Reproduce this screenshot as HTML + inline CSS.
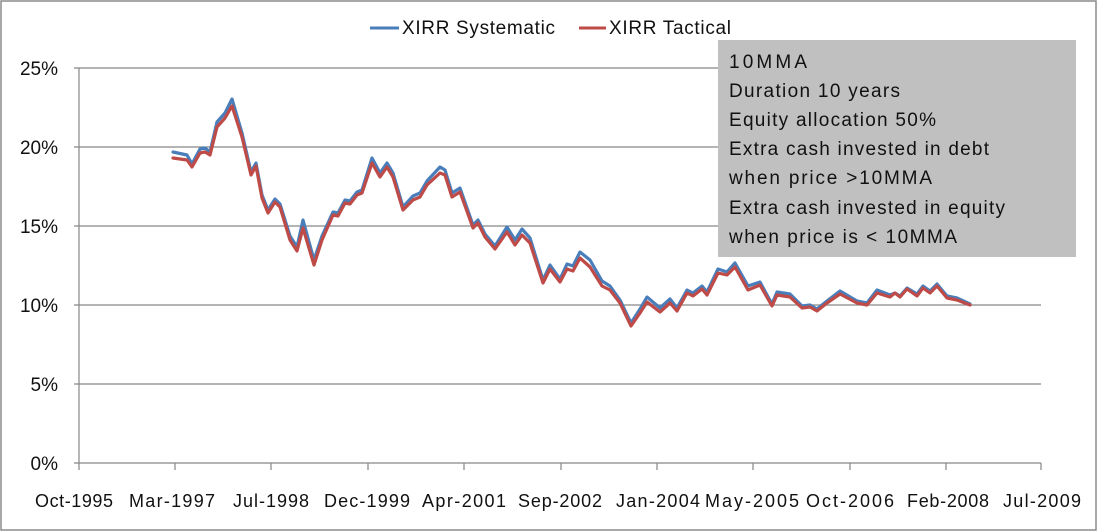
<!DOCTYPE html>
<html><head><meta charset="utf-8"><style>
html,body{margin:0;padding:0;background:#fff;}
svg{display:block;font-family:"Liberation Sans",sans-serif;}
</style></head><body>
<svg width="1098" height="532" viewBox="0 0 1098 532" xmlns="http://www.w3.org/2000/svg">
<rect x="1" y="1" width="1095" height="529" fill="#fff" stroke="#8c8c8c" stroke-width="1.5"/>
<g stroke="#878787" stroke-width="1.2">
<line x1="74" y1="68" x2="1041" y2="68"/>
<line x1="74" y1="147" x2="1041" y2="147"/>
<line x1="74" y1="226" x2="1041" y2="226"/>
<line x1="74" y1="305" x2="1041" y2="305"/>
<line x1="74" y1="384" x2="1041" y2="384"/>
<line x1="74" y1="463" x2="1041" y2="463"/>
<line x1="79" y1="68" x2="79" y2="463"/>
<line x1="79" y1="463" x2="79" y2="470"/><line x1="175" y1="463" x2="175" y2="470"/><line x1="271" y1="463" x2="271" y2="470"/><line x1="368" y1="463" x2="368" y2="470"/><line x1="464" y1="463" x2="464" y2="470"/><line x1="561" y1="463" x2="561" y2="470"/><line x1="657" y1="463" x2="657" y2="470"/><line x1="753" y1="463" x2="753" y2="470"/><line x1="850" y1="463" x2="850" y2="470"/><line x1="946" y1="463" x2="946" y2="470"/><line x1="1041" y1="463" x2="1041" y2="470"/>
</g>
<g font-size="19" fill="#111" text-anchor="end">
<text x="58" y="75">25%</text><text x="58" y="154">20%</text><text x="58" y="233">15%</text><text x="58" y="312">10%</text><text x="58" y="391">5%</text><text x="58" y="470">0%</text>
</g>
<g font-size="18" fill="#111">
<text x="35" y="507" textLength="78">Oct-1995</text><text x="129" y="507" textLength="86">Mar-1997</text><text x="233" y="507" textLength="76">Jul-1998</text><text x="324" y="507" textLength="86">Dec-1999</text><text x="422" y="507" textLength="84">Apr-2001</text><text x="518" y="507" textLength="84">Sep-2002</text><text x="616" y="507" textLength="84">Jan-2004</text><text x="705" y="507" textLength="94">May-2005</text><text x="806" y="507" textLength="88">Oct-2006</text><text x="907" y="507" textLength="82">Feb-2008</text><text x="1003" y="507" textLength="78">Jul-2009</text>
</g>
<g fill="none" stroke-width="3.2" stroke-linejoin="round" stroke-linecap="round">
<polyline stroke="#4a7ebb" transform="translate(0,-2)" points="173,154 187,157 192,166 200,151 205,150 210,154 217,124 225,115 232,101 242,135 251,174 256,165 262,197 268,212 275,201 280,206 290,238 297,249 303,222 314,262 322,238 333,214 338,215 345,202 350,203 357,194 362,192 372,160 380,175 387,165 393,175 403,209 413,198 420,195 427,183 440,169 445,172 452,195 460,190 473,227 478,222 485,236 495,248 507,229 515,242 522,231 530,240 543,282 550,267 560,281 567,266 573,268 580,254 590,262 602,283 610,288 620,302 631,325 640,311 647,299 660,310 670,301 677,310 687,292 693,295 702,288 707,294 718,271 727,274 735,265 748,288 760,284 772,306 777,294 790,296 802,308 810,307 817,311 827,303 840,293 857,303 867,305 877,292 890,297 895,295 900,298 907,290 917,296 923,288 930,293 937,286 947,298 957,300 970,306"/>
<polyline stroke="#be4b48" points="173,158 187,160 192,167 200,153 205,152 210,155 217,127 225,118 232,106 242,137 251,175 256,166 262,198 268,213 275,202 280,207 290,240 297,251 303,228 314,265 322,240 333,215 338,216 345,203 350,204 357,195 362,193 372,163 380,177 387,167 393,177 403,210 413,200 420,197 427,185 440,173 445,175 452,197 460,192 473,228 478,223 485,237 495,249 507,232 515,245 522,235 530,243 543,283 550,269 560,282 567,269 573,271 580,258 590,267 602,286 610,290 620,303 631,326 640,313 647,302 660,312 670,303 677,311 687,293 693,296 702,289 707,295 718,273 727,275 735,267 748,290 760,285 772,306 777,295 790,297 802,308 810,307 817,311 827,303 840,294 857,303 867,305 877,293 890,297 895,293 900,297 907,289 917,296 923,288 930,293 937,286 947,298 957,300 970,305"/>
</g>
<line x1="370" y1="28" x2="399" y2="28" stroke="#4a7ebb" stroke-width="3"/>
<text x="402" y="34" font-size="19" fill="#111" textLength="153">XIRR Systematic</text>
<line x1="579" y1="28" x2="606" y2="28" stroke="#be4b48" stroke-width="3"/>
<text x="609" y="34" font-size="19" fill="#111" textLength="122">XIRR Tactical</text>
<rect x="718" y="40" width="358" height="217" fill="#c0c0c0"/>
<g font-size="19" fill="#111">
<text x="729" y="68" textLength="78">10MMA</text>
<text x="729" y="97" textLength="171">Duration 10 years</text>
<text x="729" y="126" textLength="207">Equity allocation 50%</text>
<text x="729" y="155" textLength="260">Extra cash invested in debt</text>
<text x="729" y="184" textLength="203">when price &gt;10MMA</text>
<text x="729" y="214" textLength="276">Extra cash invested in equity</text>
<text x="729" y="243" textLength="228">when price is &lt; 10MMA</text>
</g>
</svg>
</body></html>
